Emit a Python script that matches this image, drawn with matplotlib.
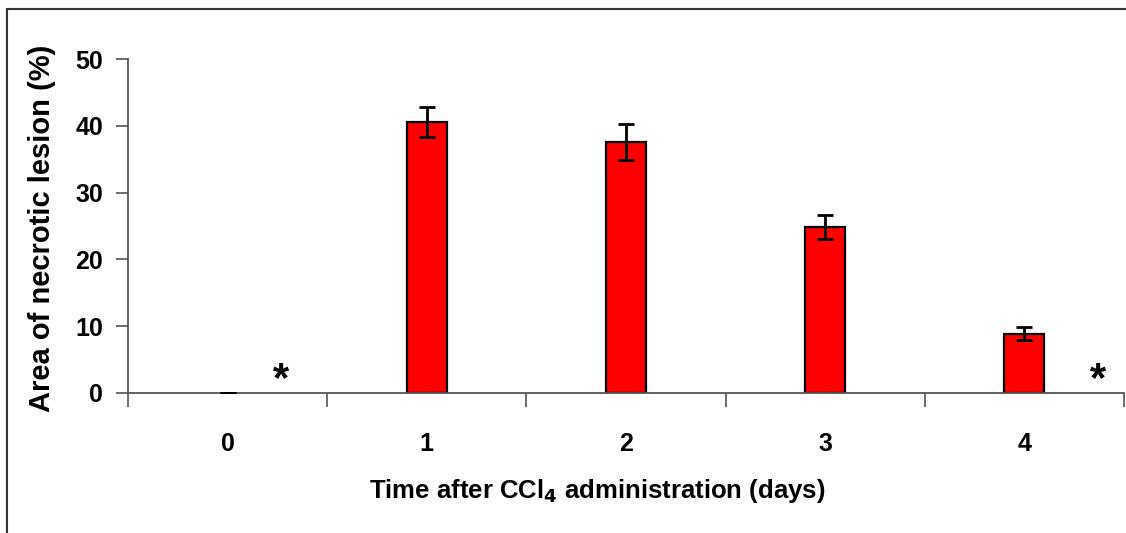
import matplotlib.pyplot as plt
from matplotlib.patches import Rectangle

# %% Data
days = ["0", "1", "2", "3", "4"]
lesion = [0, 40.6, 37.6, 24.8, 8.9]
sem = [0, 2.25, 2.7, 1.8, 1.0]
star_x = [0.27, 4.37]
star_y = [1.9, 1.9]

# %% Plot
plt.rcParams['font.family'] = ['Liberation Sans', 'DejaVu Sans']
plt.rcParams['font.weight'] = 'bold'

fig = plt.figure(figsize=(11.26, 5.33), dpi=100)
ax = fig.add_axes([0.1137, 0.2627, 0.8845, 0.6266])

x = list(range(len(days)))
edges = ['black' if v > 0 else 'none' for v in lesion]
ax.bar(x, lesion, width=0.2, color='#ff0000', edgecolor=edges, linewidth=1.6, zorder=2)
ax.errorbar(x, lesion, yerr=sem, fmt='none', ecolor='black',
            elinewidth=2, capsize=6, capthick=2, zorder=3)
for sx, sy in zip(star_x, star_y):
    ax.text(sx, sy, "*", ha='center', va='center', fontsize=30, fontweight='bold')

ax.set_xlim(-0.5, len(days) - 0.5)
ax.set_ylim(0, 50)
ax.set_yticks([0, 10, 20, 30, 40, 50])
ax.set_xticks(x)
ax.set_xticklabels(days)
ax.set_xticks([i + 0.5 for i in range(-1, len(days))], minor=True)
ax.tick_params(axis='x', which='major', length=0, pad=28, labelsize=18)
ax.tick_params(axis='x', which='minor', length=10, width=1.2, color='#555555', direction='out')
ax.tick_params(axis='y', length=9, width=1.2, color='#555555', pad=9, labelsize=18)

for s in ['top', 'right']:
    ax.spines[s].set_visible(False)
for s in ['left', 'bottom']:
    ax.spines[s].set_color('#555555')
    ax.spines[s].set_linewidth(1.3)

fig.text(42 / 1126, 1 - 228 / 533, "Area of necrotic lesion (%)", rotation=90,
         ha='center', va='center', fontsize=21, fontweight='bold')
fig.text(597 / 1126, 1 - 491 / 533, "Time after CCl$_\\mathbf{4}$ administration (days)",
         ha='center', va='center', fontsize=18.5, fontweight='bold')

border = Rectangle((7 / 1126, -0.05), 1.1, 1 - 9 / 533 + 0.05, transform=fig.transFigure,
                   fill=False, edgecolor='#333333', linewidth=1.5, clip_on=False)
fig.patches.append(border)

plt.savefig("out.png", dpi=100)
